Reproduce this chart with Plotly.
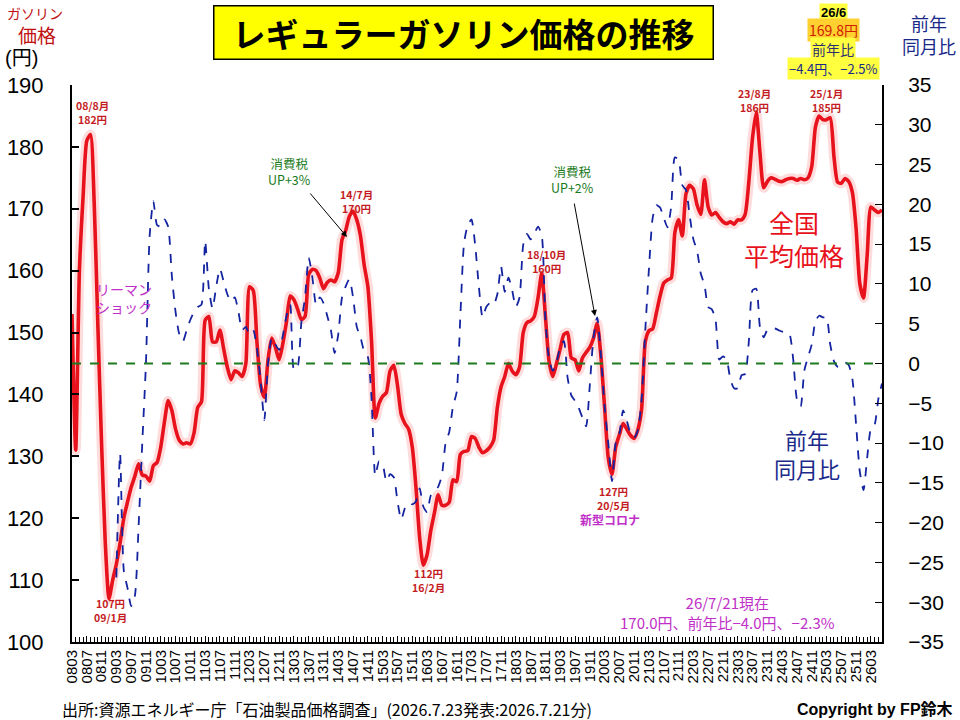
import plotly.graph_objects as go

# ---- data -------------------------------------------------------------
years_months = [(y, m) for y in range(2008, 2027) for m in range(1, 13)]
months = [f"{y % 100:02d}{m:02d}" for (y, m) in years_months
          if (y, m) >= (2008, 3) and (y, m) <= (2026, 6)]

price = [
    153, 131, 160, 172, 181, 182, 171, 151, 132, 116,
    107, 110, 112.6, 116, 120, 122.6, 125, 126.8, 128.8, 127,
    126.8, 126, 128.5, 129, 131.5, 135.6, 139, 137.4, 134.4, 132.6,
    132, 132.2, 132, 133.8, 137.9, 138.8, 152, 152.6, 148.5, 148.5,
    150.4, 147.4, 144.4, 142.4, 143.8, 143.5, 142.9, 145, 157.4, 156.8,
    148.5, 141.5, 139.5, 145.6, 149.1, 147.6, 145.6, 148.2, 151.8, 155.9,
    155.3, 153.8, 152.1, 152.6, 159.4, 160.2, 160, 158.8, 157.1, 158.1,
    158.5, 158.2, 159.7, 165, 166.5, 168.8, 169.6, 168.2, 165.6, 160.9,
    157.4, 148.5, 136.2, 138.5, 139.7, 140.3, 143.8, 144.7, 141.5, 136.8,
    135.3, 134.4, 131.5, 125, 116.8, 112.4, 114.1, 118, 120.9, 123.8,
    122.1, 122.1, 122.6, 126.2, 125.9, 130.3, 130.8, 130.9, 133.2, 132.9,
    131.5, 130.6, 130.9, 131.5, 132.6, 137.9, 141.2, 142.9, 145, 143.8,
    143.2, 144.4, 150, 151.6, 151.9, 152.6, 155.6, 159.6, 152.6, 145.3,
    142.9, 145, 147.4, 149.7, 150, 145.9, 145.6, 143.8, 145.9, 146.8,
    147.6, 149.1, 151.5, 146.2, 137.9, 129.7, 127.1, 131.5, 133.5, 135.3,
    134.4, 133.4, 132.9, 134.3, 137.6, 148.5, 150.3, 150.6, 153.2, 155.9,
    158, 158.5, 158.8, 166.2, 168.2, 165.6, 172.4, 173.8, 173.2, 170.6,
    169.1, 174.7, 170.3, 169, 169.4, 168.6, 167.9, 167.6, 167.9, 167.5,
    168.2, 168.2, 169.1, 174.4, 181.5, 185.6, 179.1, 173.4, 174.4, 175,
    174.8, 174.5, 174.4, 174.7, 174.9, 174.9, 174.6, 174.9, 174.7, 175,
    176.8, 183.2, 185, 184.4, 184.4, 184.7, 178.5, 174.3, 174.1, 174.9,
    174.4, 172.6, 166.8, 157.9, 155.6, 162.6, 170.3, 169.8, 169.4, 169.8,
]

yoy = [None] * 12 + [
    -26.9, -11.3, -26, -28.2, -30.5, -29.2, -20.5, -10, 0.1, 16.1,
    20.4, 17.4, 17.2, 18.1, 17.2, 11, 6.5, 3.7, 2.8, 4.2,
    5.5, 6.5, 7.1, 7.4, 15.4, 9.4, 6.9, 9.7, 11.9, 10.3,
    8.7, 7.8, 8.3, 6.5, 4.2, 4.6, 3.7, 4.2, 1.9, -2.2,
    -7.1, 0, 3.2, 2.4, 1.7, 3.5, 6.0, 7.4, -0.8, -0.4,
    5.1, 8.3, 13.3, 10.8, 7.4, 8.3, 7.6, 6.0, 4.2, 1.3,
    3.7, 8.3, 9.7, 10.6, 8.3, 4.6, 3.3, 1.5, 0.8, -4.5,
    -14.1, -12.3, -12.7, -14.8, -13.9, -14.3, -17.3, -19.6, -18.2, -17.5,
    -17.7, -17.3, -15.7, -18, -18.7, -16.6, -16.1, -15.5, -14.1, -10,
    -8.6, -5.4, -3.6, 6, 15.1, 17.4, 18.1, 14.9, 9.7, 5.8,
    7.1, 7.6, 7.4, 8.7, 12.2, 9.0, 10.8, 9.2, 7.1, 8.3,
    14.9, 16.3, 15.6, 16.3, 17.2, 16.1, 5.5, 0.5, -0.9, 0.1,
    2.1, 2.8, -1.8, -4.0, -4.7, -5.6, -6.8, -7.9, -2.7, 3.3,
    5.8, 1.0, -5.4, -10, -14.8, -10, -8.8, -5.9, -7.2, -8.8,
    -9.3, -8.4, -4.5, 4.2, 12.0, 18.3, 19.9, 19.6, 18.3, 17.1,
    19.7, 25.9, 25.6, 22.4, 21.8, 18.6, 15.6, 14.2, 11.3, 9.9,
    7.1, 6.8, 5.5, 0.5, 0.9, 0.5, -2.0, -3.1, -3.1, -1.5,
    -1.3, 2.8, 9.2, 9.4, 4.6, 3.3, 4.2, 4.3, 4.4, 4.2,
    4.0, 4.0, 3.7, 0.5, -4.5, -5.4, -0.9, 0.8, 2.4, 5.3,
    6.0, 5.8, 5.8, 2.4, 0.3, -0.4, -0.4, 0.1, -0.2, -2.0,
    -7.7, -13.6, -15.9, -11.8, -8.2, -7.7, -4.5, -2.5,
]

tick_step = 4
tick_idx = list(range(0, len(months), tick_step))
tick_labels = [months[i] for i in tick_idx]

left_ticks = [100, 110, 120, 130, 140, 150, 160, 170, 180, 190]
right_ticks = [-35, -30, -25, -20, -15, -10, -5, 0, 5, 10, 15, 20, 25, 30, 35]

# ---- figure -----------------------------------------------------------
W, H = 960, 720
L, R, T, B = 72, 78, 85, 78
PW, PH = W - L - R, H - T - B

def px(x, y):
    return (x - L) / PW, 1 - (y - T) / PH

idx = list(range(len(months)))
JP = "Noto Sans CJK JP, Liberation Sans, Arial, sans-serif"
NUM = "Liberation Sans, Arial, Noto Sans CJK JP, sans-serif"
RED = "#e8121c"
BLUE = "#1424a0"

fig = go.Figure()
fig.add_trace(go.Scatter(x=idx, y=price, mode="lines",
                         line=dict(color="rgba(255,60,60,0.18)", width=10, shape="spline", smoothing=0.6),
                         hoverinfo="skip", showlegend=False))
fig.add_trace(go.Scatter(x=idx, y=price, mode="lines",
                         line=dict(color=RED, width=3.6, shape="spline", smoothing=0.6),
                         showlegend=False, name="全国平均価格"))
fig.add_trace(go.Scatter(x=idx, y=yoy, mode="lines", yaxis="y2",
                         line=dict(color=BLUE, width=1.8, dash="dash", shape="spline", smoothing=0.6),
                         showlegend=False, name="前年同月比", connectgaps=False))

fig.add_hline(y=0, yref="y2", line=dict(color="#1e7a1e", width=1.8, dash="dash"))

fig.update_layout(
    width=W, height=H, margin=dict(l=L, r=R, t=T, b=B, autoexpand=False),
    paper_bgcolor="white", plot_bgcolor="white",
    font=dict(family=NUM, color="black"),
    xaxis=dict(range=[0, len(months) - 1], tickmode="array", tickvals=tick_idx,
               ticktext=tick_labels, tickangle=-90, tickfont=dict(size=15, family=NUM),
               showline=True, linecolor="black", linewidth=2, ticks="inside", ticklen=6,
               tickcolor="black", showgrid=False, zeroline=False, automargin=False,
               minor=dict(tick0=0, dtick=1, ticks="inside", ticklen=5, tickcolor="black", showgrid=False)),
    yaxis=dict(range=[100, 190], tickvals=left_ticks, tickfont=dict(size=22, family=NUM),
               showline=True, linecolor="black", linewidth=2, ticks="inside", ticklen=7,
               tickcolor="black", tickwidth=2, showgrid=False, zeroline=False,
               ticklabelstandoff=22, automargin=False),
    yaxis2=dict(range=[-35, 35], tickvals=right_ticks, ticksuffix="%", overlaying="y", side="right",
                tickfont=dict(size=21, family=NUM), showline=True, linecolor="black", linewidth=2,
                ticks="inside", ticklen=7, tickcolor="black", tickwidth=1, showgrid=False,
                zeroline=False, ticklabelstandoff=20, automargin=False),
)

ann = []
def text(x, y, s, size=12, color="black", bold=False, family=JP, **kw):
    xp, yp = px(x, y)
    t = f"<b>{s}</b>" if bold else s
    d = dict(x=xp, y=yp, xref="paper", yref="paper", text=t, showarrow=False,
             font=dict(size=size, color=color, family=family), xanchor="center", yanchor="middle")
    d.update(kw)
    ann.append(d)

text(463, 33, "レギュラーガソリン価格の推移", size=33, bold=True, bgcolor="#ffff00",
     bordercolor="black", borderwidth=1.5, width=496, height=50)

text(35, 13, "ガソリン", size=14, color="#c01010")
text(37, 35, "価格", size=19, color="#c01010")
text(21, 58, "(円)", size=20, family=NUM)

text(929, 35, "前年<br>同月比", size=18, color="#1a2a8a")

text(833, 12, "26/6", size=13, bold=True, bgcolor="#ffff40", family=NUM)
text(833, 30, "169.8円", size=14, color="#d02000", bgcolor="#ffd030")
text(833, 49, "前年比", size=14, color="#303070", bgcolor="#ffff40")
text(833, 68, "−4.4円、−2.5%", size=13, color="#1a2a8a", bgcolor="#ffff40")

DR = "#c41a22"
text(92, 112, "08/8月<br>182円", size=10.5, color=DR, bold=True)
text(110, 610, "107円<br>09/1月", size=10.5, color=DR, bold=True)
text(356, 201, "14/7月<br>170円", size=10.5, color=DR, bold=True)
text(428, 580, "112円<br>16/2月", size=10.5, color=DR, bold=True)
text(546, 261, "18/10月<br>160円", size=10.5, color=DR, bold=True)
text(613, 498, "127円<br>20/5月", size=10.5, color=DR, bold=True)
text(754, 101, "23/8月<br>186円", size=10.5, color=DR, bold=True)
text(826, 101, "25/1月<br>185円", size=10.5, color=DR, bold=True)

MG = "#c030c8"
text(124, 298, "リーマン<br>ショック", size=14, color=MG)
text(610, 519, "新型コロナ", size=12, color=MG, bold=True)

GR = "#1a7a1a"
text(289, 171, "消費税<br>UP+3%", size=12.5, color=GR)
text(572, 179, "消費税<br>UP+2%", size=12.5, color=GR)

for (hx, hy, tx, ty) in [(347, 237, 309, 192), (595, 316, 574, 202)]:
    xp, yp = px(hx, hy)
    ann.append(dict(x=xp, y=yp, xref="paper", yref="paper", text="", showarrow=True,
                    arrowhead=2, arrowsize=1.2, arrowwidth=1, arrowcolor="black",
                    ax=tx - hx, ay=ty - hy))

text(794, 238, "全国<br>平均価格", size=25, color=RED)
text(807, 453, "前年<br>同月比", size=22, color="#1a2a8a")

text(727, 612, "26/7/21現在<br>170.0円、前年比−4.0円、−2.3%", size=15, color=MG)

text(60, 709, "出所:資源エネルギー庁「石油製品価格調査」(2026.7.23発表:2026.7.21分)", size=16,
     xanchor="left")
text(955, 709, "Copyright by FP鈴木", size=16, bold=True, xanchor="right", family=NUM)

fig.update_layout(annotations=ann)
fig.write_html("out.html", config={"displayModeBar": False},
               post_script="document.body.style.margin='0';document.body.style.padding='0';"
                           "document.body.style.overflow='hidden';")
